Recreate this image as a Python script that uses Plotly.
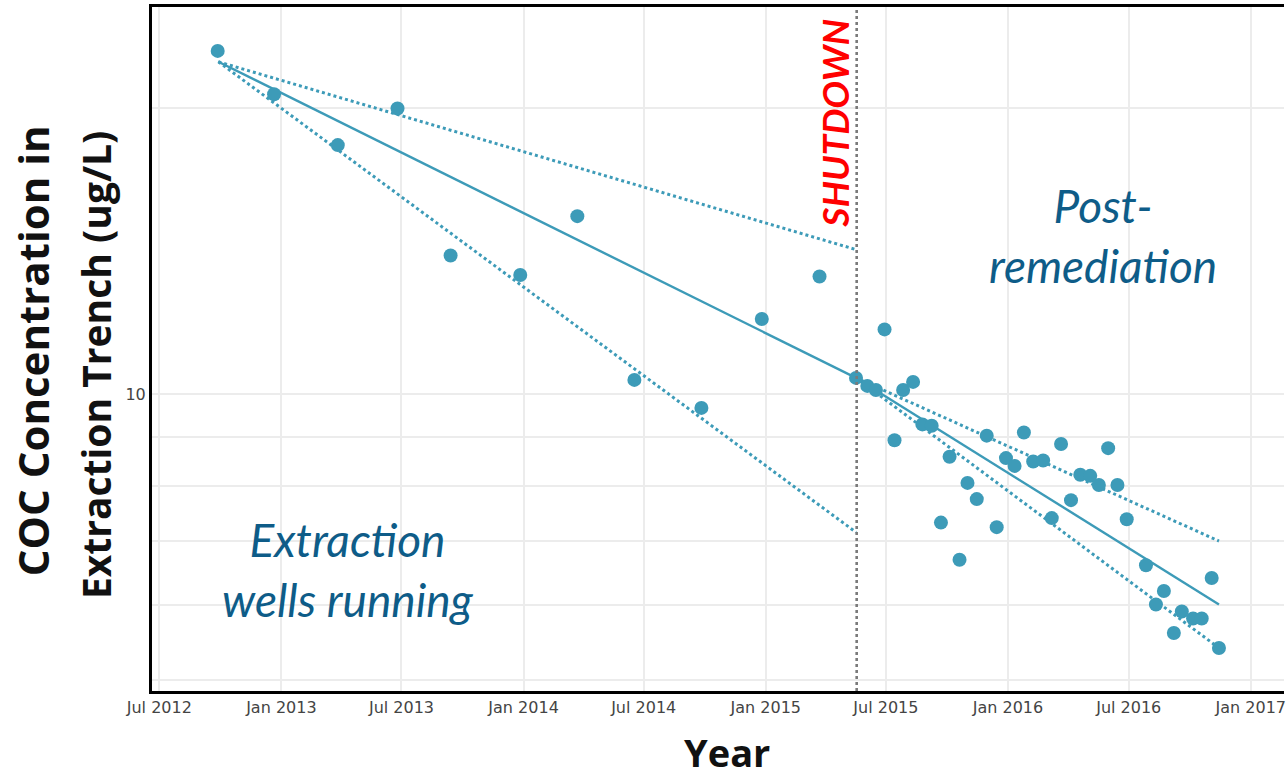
import plotly.graph_objects as go

# ---- data ----
pre_dates = ["2012-09-27", "2012-12-21", "2013-03-27", "2013-06-25", "2013-09-13",
             "2013-12-27", "2014-03-23", "2014-06-17", "2014-09-26", "2014-12-26",
             "2015-03-23"]
pre_vals = [23.0, 20.7, 18.3, 20.0, 14.0, 13.35, 15.4, 10.35, 9.67, 12.0, 13.3]

post_dates = ["2015-05-17", "2015-06-03", "2015-06-16", "2015-06-29", "2015-07-14",
              "2015-07-27", "2015-08-11", "2015-08-25", "2015-09-08", "2015-09-22",
              "2015-10-05", "2015-10-20", "2015-11-01", "2015-11-15", "2015-11-30",
              "2015-12-15", "2015-12-29", "2016-01-11", "2016-01-25", "2016-02-08",
              "2016-02-23", "2016-03-07", "2016-03-21", "2016-04-05", "2016-04-19",
              "2016-05-04", "2016-05-17", "2016-05-31", "2016-06-14", "2016-06-28",
              "2016-07-27", "2016-08-11", "2016-08-23", "2016-09-07", "2016-09-19",
              "2016-10-06", "2016-10-19", "2016-11-03", "2016-11-14"]
post_vals = [10.4, 10.2, 10.1, 11.7, 8.94, 10.1, 10.3, 9.29, 9.26, 7.32,
             8.59, 6.69, 8.06, 7.75, 9.04, 7.24, 8.56, 8.40, 9.11, 8.49,
             8.51, 7.40, 8.86, 7.73, 8.22, 8.20, 8.02, 8.77, 8.02, 7.38,
             6.60, 6.00, 6.20, 5.60, 5.90, 5.80, 5.80, 6.40, 5.40]

trend_pre_dates = ["2012-09-28", "2015-05-17"]
trend_pre_fit = [22.4, 10.4]
trend_pre_upper = [22.4, 14.2]
trend_pre_lower = [22.4, 7.15]

trend_post_dates = ["2015-05-17", "2016-11-14"]
trend_post_fit = [10.4, 6.0]
trend_post_upper = [10.4, 7.0]
trend_post_lower = [10.4, 5.4]

shutdown_date = "2015-05-18"

y_tickvals = [5, 6, 7, 8, 9, 10, 20]
y_ticktext = ["", "", "", "", "", "10", ""]

# ---- styling ----
TEAL = "#3d9bb8"
BLUE_TXT = "#0e5c88"
W, H = 1286, 779
L, R, T, B = 152, 0, 7, 88
pw = W - L - R
ph = H - T - B


def px(xpix):
    return (xpix - L) / pw


def py(ypix):
    return (H - B - ypix) / ph


fig = go.Figure()


def add_line(xs, ys, dash):
    fig.add_trace(go.Scatter(
        x=xs, y=ys, mode="lines", showlegend=False, hoverinfo="skip",
        line=dict(color=TEAL, width=3 if dash == "dot" else 2.4, dash=dash)))


for xs, fits in [(trend_pre_dates, (trend_pre_fit, trend_pre_upper, trend_pre_lower)),
                 (trend_post_dates, (trend_post_fit, trend_post_upper, trend_post_lower))]:
    add_line(xs, fits[0], "solid")
    add_line(xs, fits[1], "dot")
    add_line(xs, fits[2], "dot")

fig.add_trace(go.Scatter(x=pre_dates, y=pre_vals, mode="markers", showlegend=False,
                         marker=dict(color=TEAL, size=14)))
fig.add_trace(go.Scatter(x=post_dates, y=post_vals, mode="markers", showlegend=False,
                         marker=dict(color=TEAL, size=14)))

fig.add_shape(type="line", xref="x", yref="paper", x0=shutdown_date, x1=shutdown_date,
              y0=0, y1=1, line=dict(color="#7a7a7a", width=2.6, dash="dot"))

fig.add_annotation(x=shutdown_date, xref="x", y=py(17), yref="paper",
                   text="<b><i>SHUTDOWN</i></b>", textangle=-90, showarrow=False,
                   xanchor="right", yanchor="top", xshift=2,
                   font=dict(family="Lato", size=37, color="#ff0000"))

fig.add_annotation(x=px(348), y=py(569), xref="paper", yref="paper",
                   text="<i>Extraction<br>wells running</i>", showarrow=False,
                   xanchor="center", yanchor="middle",
                   font=dict(family="Lato", size=46, color=BLUE_TXT))
fig.add_annotation(x=px(1105), y=py(235), xref="paper", yref="paper",
                   text="<i>Post-<br>remediation</i>", showarrow=False,
                   xanchor="center", yanchor="middle",
                   font=dict(family="Lato", size=46, color=BLUE_TXT))

# axis titles
fig.add_annotation(x=px(32), y=py(351), xref="paper", yref="paper",
                   text="<b>COC Concentration in</b>", textangle=-90, showarrow=False,
                   xanchor="center", yanchor="middle",
                   font=dict(family="Open Sans", size=42, color="#111111"))
fig.add_annotation(x=px(95), y=py(365), xref="paper", yref="paper",
                   text="<b>Extraction Trench (ug/L)</b>", textangle=-90, showarrow=False,
                   xanchor="center", yanchor="middle",
                   font=dict(family="Open Sans", size=39, color="#111111"))
fig.add_annotation(x=px(728), y=py(752), xref="paper", yref="paper",
                   text="<b>Year</b>", showarrow=False,
                   xanchor="center", yanchor="middle",
                   font=dict(family="Open Sans", size=38, color="#111111"))

fig.update_layout(
    width=W, height=H,
    margin=dict(l=L, r=R, t=T, b=B, pad=0),
    paper_bgcolor="white", plot_bgcolor="white",
    font=dict(family="DejaVu Sans", size=16, color="#444444"),
    xaxis=dict(type="date", range=["2012-06-20", "2017-02-20"],
               tick0="2012-07-01", dtick="M6", tickformat="%b %Y",
               ticklabeloverflow="allow",
               showgrid=True, gridcolor="#ececec", gridwidth=1.5,
               showline=True, linecolor="black", linewidth=3, mirror=True,
               ticks="", zeroline=False,
               tickfont=dict(family="DejaVu Sans", size=16, color="#444444")),
    yaxis=dict(type="log", range=[0.687, 1.408],
               tickvals=y_tickvals, ticktext=y_ticktext,
               showgrid=True, gridcolor="#ececec", gridwidth=1.5,
               showline=True, linecolor="black", linewidth=3, mirror=False,
               ticks="", zeroline=False,
               tickfont=dict(family="DejaVu Sans", size=16, color="#444444")),
)

fig.write_html("out.html")
